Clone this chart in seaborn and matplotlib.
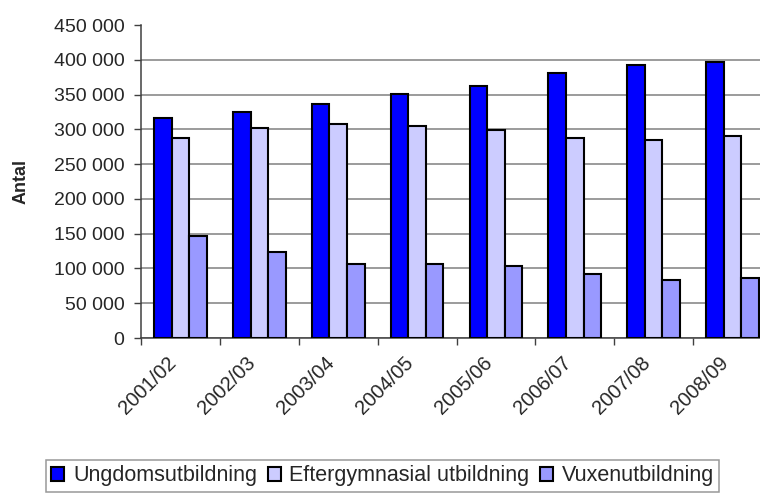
import matplotlib
matplotlib.use("Agg")
import matplotlib.pyplot as plt
from matplotlib.ticker import FuncFormatter, FixedLocator
import pandas as pd
import seaborn as sns


years = ["2001/02", "2002/03", "2003/04", "2004/05",
         "2005/06", "2006/07", "2007/08", "2008/09"]
series = ["Ungdomsutbildning", "Eftergymnasial utbildning", "Vuxenutbildning"]
ungdom = [316500, 325600, 337100, 351500, 363000, 380300, 391800, 397500]
eftergymn = [287800, 302100, 308300, 305000, 299300, 288200, 285300, 290600]
vuxen = [146800, 124200, 106500, 106500, 103600, 92500, 83900, 86800]
colors = ["#0000FF", "#CCCCFF", "#9999FF"]


def build_frame():
    """
    Long table for seaborn
    """
    rows = []
    for name, vals in zip(series, [ungdom, eftergymn, vuxen]):
        for yr, v in zip(years, vals):
            rows.append({"År": yr, "Typ": name, "Antal": v})
    return pd.DataFrame(rows)


sns.set_style("white")
plt.rcParams["font.family"] = ["Liberation Sans", "DejaVu Sans"]

df = build_frame()

fig = plt.figure(figsize=(7.6, 4.94), dpi=100)
ax = fig.add_axes([141 / 760, 1 - 338 / 494, 631 / 760, 313 / 494])

sns.barplot(data=df, x="År", y="Antal", hue="Typ", order=years,
            hue_order=series, palette=colors, width=0.67,
            edgecolor="black", linewidth=1.5, saturation=1,
            ax=ax, zorder=3)

ax.set_xlim(-0.5, len(years) - 0.5)
ax.set_ylim(0, 450000)
ax.set_yticks(range(0, 450001, 50000))
ax.yaxis.set_major_formatter(
    FuncFormatter(lambda v, p: f"{int(v):,}".replace(",", " ")))

# gridlines behind bars, none at the top
ax.grid(axis="y", color="#808080", linewidth=1.1, zorder=0)
ax.set_axisbelow(True)
ax.yaxis.get_gridlines()[-1].set_visible(False)

for s in ["top", "right"]:
    ax.spines[s].set_visible(False)
for s in ["left", "bottom"]:
    ax.spines[s].set_color("#404040")
    ax.spines[s].set_linewidth(1.1)

ax.tick_params(axis="y", left=True, length=5, width=1, color="#404040",
               labelsize=14, pad=7)
ax.xaxis.set_minor_locator(FixedLocator([i - 0.5 for i in range(len(years) + 1)]))
ax.tick_params(axis="x", which="minor", bottom=True, length=5, width=1,
               color="#404040")
ax.tick_params(axis="x", which="major", bottom=False, length=0,
               labelsize=14.5, pad=11)
ax.set_xticks(range(len(years)))
ax.set_xticklabels(years, rotation=45, ha="right", va="top")

ax.set_xlabel("")
ax.set_ylabel("Antal", fontsize=13, fontweight="bold")
ax.yaxis.set_label_coords(-0.176, 0.5)

ax.legend_.remove()
handles = [plt.Rectangle((0, 0), 1, 1, facecolor=c, edgecolor="black",
                         linewidth=1.5) for c in colors]
leg = fig.legend(handles, series, ncol=3, loc="upper left",
                 bbox_to_anchor=(46 / 760, 1 - 460 / 494),
                 fontsize=15.5, frameon=True, fancybox=False,
                 handlelength=0.6, handleheight=0.6, handletextpad=0.4,
                 columnspacing=0.5, borderpad=0.25, borderaxespad=0)
leg.get_frame().set_edgecolor("#808080")
leg.get_frame().set_linewidth(1.1)

fig.savefig("out.png", dpi=100)
